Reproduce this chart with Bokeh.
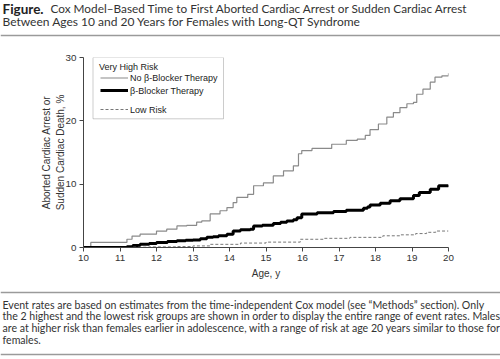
from bokeh.plotting import figure
from bokeh.models import Label, BoxAnnotation, FixedTicker, Range1d
from bokeh.layouts import column
from bokeh.embed import file_html
from bokeh.resources import INLINE

# ---------------- data ----------------
no_bb_age = [10.0, 10.2, 11.19, 11.33, 11.55, 12.0, 12.28, 12.56, 12.83, 13.1, 13.24,
             13.47, 13.74, 13.93, 14.1, 14.2, 14.5, 14.66, 14.93, 15.2, 15.48, 15.75,
             15.89, 15.98, 16.26, 16.8, 17.2, 17.5, 17.72, 17.85, 18.08, 18.31, 18.49,
             18.67, 18.86, 19.04, 19.13, 19.3, 19.5, 19.63, 19.82, 20.0]
no_bb_val = [0, 0.8, 1.3, 1.8, 2.1, 2.6, 2.9, 3.4, 3.5, 4.0, 4.2,
             5.3, 5.8, 6.3, 7.1, 7.9, 8.4, 9.75, 10.2, 11.3, 12.1, 12.9,
             14.8, 15.3, 15.65, 16.3, 16.9, 17.1, 17.7, 18.6, 19.5, 20.6, 21.3,
             22.1, 22.7, 22.9, 24.2, 25.0, 26.1, 26.9, 27.1, 27.5]

bb_age = [10.0, 11.19, 11.35, 11.55, 11.8, 12.0, 12.3, 12.56, 12.8, 13.0, 13.2, 13.38,
          13.55, 13.7, 13.93, 14.1, 14.3, 14.57, 14.66, 14.9, 15.2, 15.4, 15.57, 15.75,
          15.85, 15.98, 16.4, 16.85, 17.2, 17.67, 17.78, 17.85, 18.13, 18.4, 18.67,
          19.04, 19.2, 19.5, 19.73, 20.0]
bb_val = [0, 0.1, 0.3, 0.5, 0.65, 0.8, 0.95, 1.05, 1.15, 1.2, 1.4, 1.6,
          1.7, 1.85, 2.1, 2.6, 2.8, 2.9, 3.4, 3.5, 3.8, 4.0, 4.2, 4.4,
          4.7, 5.3, 5.5, 5.7, 5.9, 6.2, 6.4, 6.7, 7.0, 7.4, 7.7,
          8.2, 8.7, 9.2, 9.75, 9.85]

low_age = [10.0, 11.3, 11.8, 12.5, 13.0, 13.47, 14.3, 15.0, 15.94, 16.6, 17.3, 18.2,
           18.7, 19.1, 19.4, 19.65, 20.0]
low_val = [0, 0.05, 0.1, 0.15, 0.25, 0.5, 0.7, 0.85, 1.3, 1.45, 1.6, 1.85,
           2.0, 2.2, 2.4, 2.6, 2.6]

x_ticks = [10, 11, 12, 13, 14, 15, 16, 17, 18, 19, 20]
y_ticks = [0, 10, 20, 30]

title_bold = "Figure."
title_line1 = "Cox Model\u2013Based Time to First Aborted Cardiac Arrest or Sudden Cardiac Arrest"
title_line2 = "Between Ages 10 and 20 Years for Females with Long-QT Syndrome"
caption_lines = [
    "Event rates are based on estimates from the time-independent Cox model (see \u201cMethods\u201d section). Only",
    "the 2 highest and the lowest risk groups are shown in order to display the entire range of event rates. Males",
    "are at higher risk than females earlier in adolescence, with a range of risk at age 20 years similar to those for",
    "females.",
]
legend_title = "Very High Risk"
legend_labels = ["No \u03b2-Blocker Therapy", "\u03b2-Blocker Therapy", "Low Risk"]
x_label = "Age, y"
y_label = "Aborted Cardiac Arrest or\nSudden Cardiac Death, %"

# ---------------- layout ----------------
W = 500
H_T, H_M, H_C = 45, 240, 74           # title / main / caption heights (sum 359)
TEXT_FONT = "Lato"
AX_FONT = "Liberation Sans"
SEP = "#9a9a9a"


def text_fig(h):
    f = figure(width=W, height=h, x_range=Range1d(0, W), y_range=Range1d(h, 0),
               output_backend="svg", toolbar_location=None,
               x_axis_type=None, y_axis_type=None, min_border=0, frame_align=False)
    f.outline_line_color = None
    f.background_fill_color = "white"
    f.border_fill_color = "white"
    return f


# ---- title ----
pt = text_fig(H_T)
pt.add_layout(Label(x=2, y=8, text=title_bold, text_font=TEXT_FONT, text_font_size="13.5px",
                    text_font_style="bold", text_baseline="middle", text_color="#222222"))
pt.add_layout(Label(x=50, y=8, text=title_line1, text_font=TEXT_FONT, text_font_size="11.8px",
                    text_baseline="middle", text_color="#333333"))
pt.add_layout(Label(x=2, y=21, text=title_line2, text_font=TEXT_FONT, text_font_size="12px",
                    text_baseline="middle", text_color="#333333"))
pt.line([0, W], [35, 35], line_color=SEP, line_width=1.5)

# ---- main chart ----
FL, FR, FT, FB = 83, 448, 12, 202     # frame in main-canvas px
X0, X1, Y0, Y1 = 10, 20, 0, 30

p = figure(width=W, height=H_M, output_backend="svg", toolbar_location=None,
           x_range=Range1d(X0, X1), y_range=Range1d(Y0, Y1),
           min_border_left=FL, min_border_right=W - FR,
           min_border_top=FT, min_border_bottom=H_M - FB, frame_align=False)
p.outline_line_color = None
p.xgrid.visible = False
p.ygrid.visible = False
p.background_fill_color = "white"
p.border_fill_color = "white"

AX = "#444444"
for ax in (p.xaxis[0], p.yaxis[0]):
    ax.axis_line_color = AX
    ax.major_tick_line_color = AX
    ax.minor_tick_line_color = None
    ax.major_tick_in = 0
    ax.major_tick_out = 4
    ax.major_label_text_font = AX_FONT
    ax.major_label_text_font_size = "9.8px"
    ax.major_label_text_color = "#333333"
    ax.axis_label_text_font = AX_FONT
    ax.axis_label_text_font_size = "10px"
    ax.axis_label_text_font_style = "normal"
    ax.axis_label_text_color = "#333333"
p.xaxis[0].ticker = FixedTicker(ticks=x_ticks)
p.yaxis[0].ticker = FixedTicker(ticks=y_ticks)
p.xaxis[0].major_label_standoff = 3
p.yaxis[0].major_label_standoff = 3
p.xaxis[0].axis_label = x_label
p.xaxis[0].axis_label_standoff = 4
p.yaxis[0].axis_label = y_label
p.yaxis[0].axis_label_standoff = -3


# helpers: main-canvas px -> data coords (for legend inside the frame)
def dx(cx):
    return X0 + (cx - FL) * (X1 - X0) / (FR - FL)


def dy(cy):
    return Y0 + (FB - cy) * (Y1 - Y0) / (FB - FT)


OFF = H_T  # page y -> main canvas y
p.add_layout(BoxAnnotation(left=dx(92.5), right=dx(223), top=Y1, bottom=dy(118.3 - OFF),
                           fill_color="white", fill_alpha=1, level="underlay",
                           line_color="#555555", line_width=1))

# series
p.step(no_bb_age, no_bb_val, mode="after", line_color="#8a8a8a", line_width=1.2)
p.step(bb_age, bb_val, mode="after", line_color="black", line_width=3)
p.step(low_age, low_val, mode="after", line_color="#777777", line_width=1,
       line_dash="3 2")

p.add_layout(Label(x=dx(98.5), y=dy(66 - OFF), text=legend_title, text_font=AX_FONT,
                   text_font_size="9px", text_baseline="middle", text_color="#222222"))
rows = [(77.5, "#8a8a8a", 1.2, "solid"), (90, "black", 3, "solid"), (109, "#777777", 1, "3 2")]
for (ry, col, lw, dash), lab in zip(rows, legend_labels):
    p.line([dx(100), dx(127.5)], [dy(ry - OFF), dy(ry - OFF)], line_color=col,
           line_width=lw, line_dash=dash)
    p.add_layout(Label(x=dx(129.5), y=dy(ry - OFF), text=lab, text_font=AX_FONT,
                       text_font_size="9px", text_baseline="middle", text_color="#222222"))

# ---- caption ----
pc = text_fig(H_C)
pc.line([0, W], [7, 7], line_color=SEP, line_width=1.5)
for i, line in enumerate(caption_lines):
    pc.add_layout(Label(x=2, y=19 + i * 11.7, text=line, text_font=TEXT_FONT,
                        text_font_size="10.6px", text_baseline="middle", text_color="#333333"))
pc.line([0, W], [69, 69], line_color=SEP, line_width=1.5)

layout = column(pt, p, pc, spacing=0)
open("out.html", "w").write(file_html(layout, INLINE))
